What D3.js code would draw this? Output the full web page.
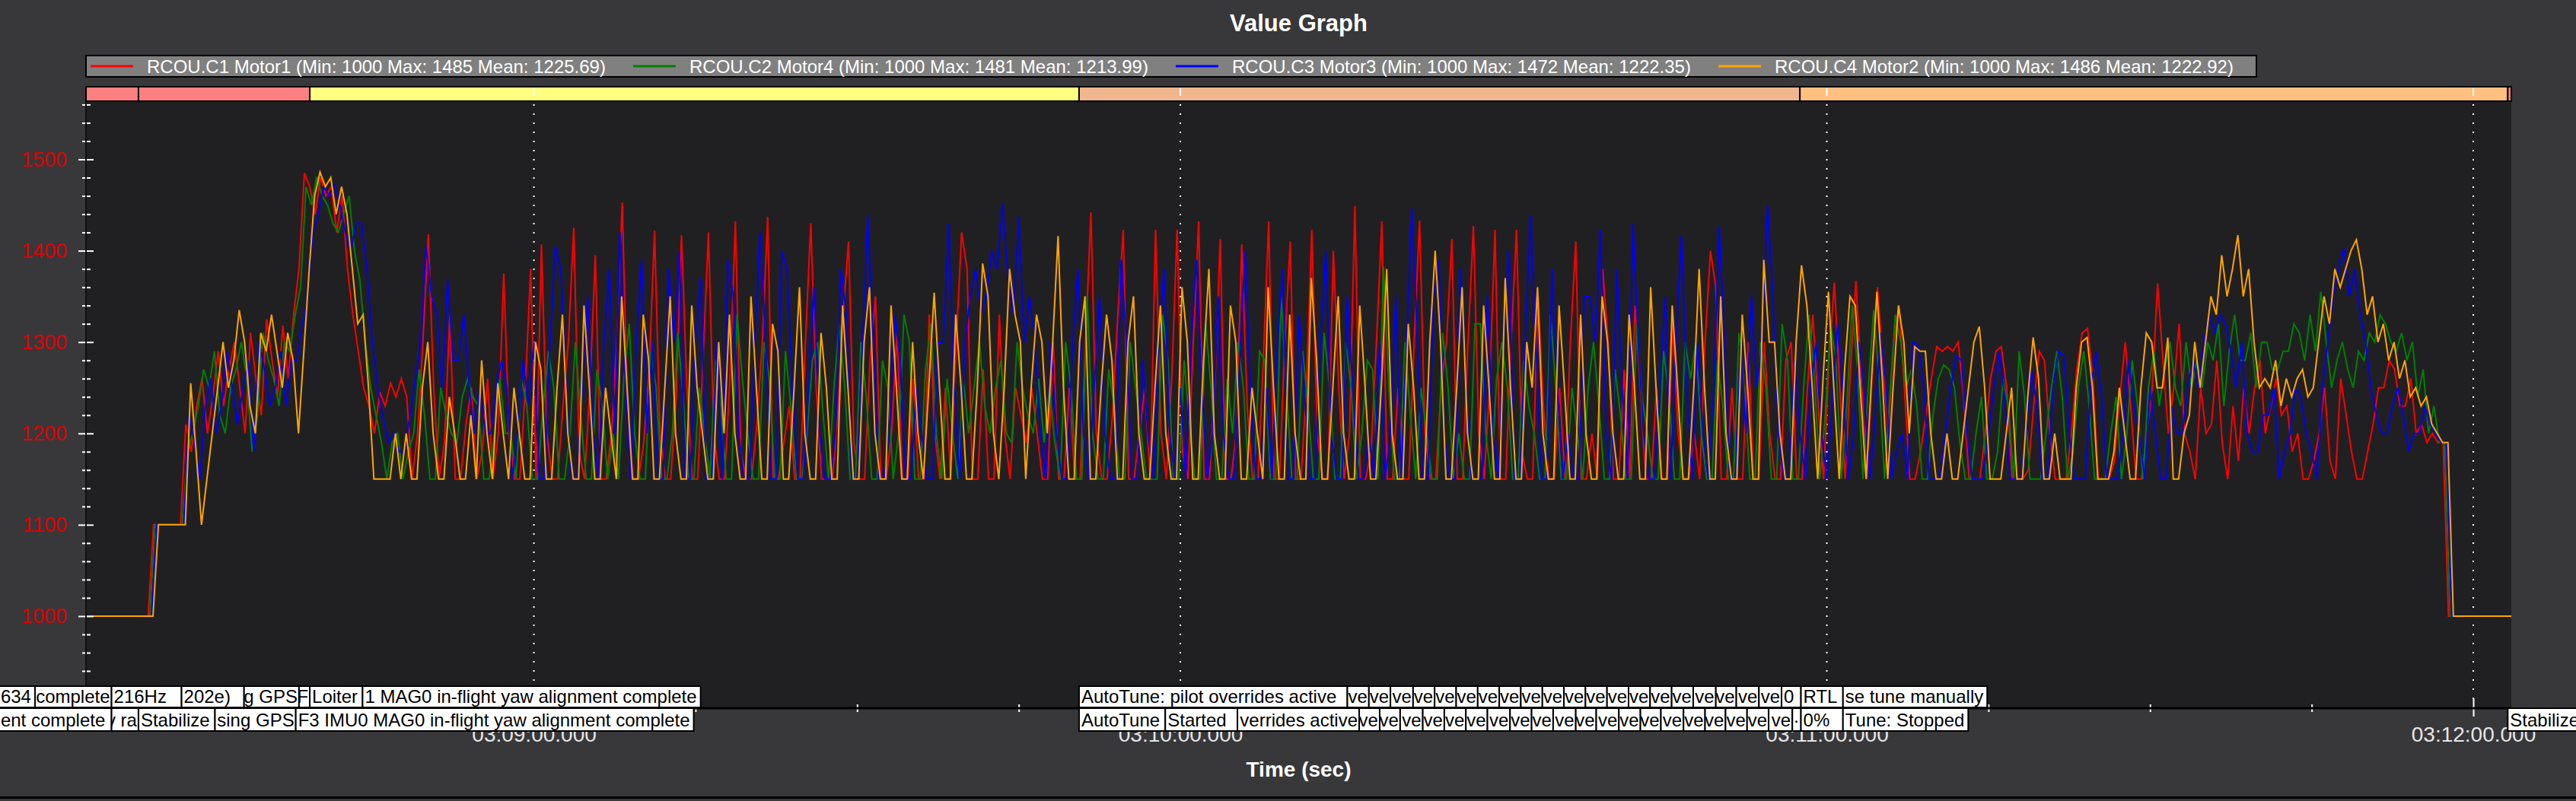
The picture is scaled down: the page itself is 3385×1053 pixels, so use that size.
<!DOCTYPE html>
<html>
<head>
<meta charset="utf-8">
<title>Value Graph</title>
<script src="https://cdn.jsdelivr.net/npm/d3@7"></script>
<style>
  body { margin: 0; background: #38383b; }
  svg { display: block; font-family: "Liberation Sans", Arial, sans-serif; }
</style>
</head>
<body>
<div id="graph"></div>
<script>
// D3 script for a Mission Planner style "Value Graph" of four RCOU motor outputs

// ---- data ----
// all times are seconds after 03:09:00, motor samples are half a second apart
let sampleStart = -42;
let sampleStep = 0.5;
let sampleLag = [-0.3, -0.15, 0, 0.15];

let seriesNames = [
  'RCOU.C1 Motor1 (Min: 1000 Max: 1485 Mean: 1225.69)',
  'RCOU.C2 Motor4 (Min: 1000 Max: 1481 Mean: 1213.99)',
  'RCOU.C3 Motor3 (Min: 1000 Max: 1472 Mean: 1222.35)',
  'RCOU.C4 Motor2 (Min: 1000 Max: 1486 Mean: 1222.92)'
];
let seriesColors = ['#ff0000', '#008000', '#0000ff', '#ffa500'];

let motor1 = [
  1000,1000,1000,1000,1000,1000,1000,1000,1000,1000,1000,1000,1000,1000,
  1100,1100,1100,1100,1100,1100,
  1210,1180,1230,1260,1200,1240,1290,1230,1270,1300,1250,1200,1310,1260,1220,1325,1280,1240,1318,1260,
  1330,1380,1485,1470,1440,1480,1460,1470,1420,1460,1380,1330,1290,1250,1230,1200,1245,1230,1255,1240,
  1260,1240,1150,1200,1300,1418,1250,1150,1190,1330,1150,1150,1210,1250,1150,1180,1260,1150,1200,1375,
  1200,1150,1150,1250,1380,1150,1407,1200,1150,1150,1230,1300,1425,1180,1150,1250,1395,1150,1150,1200,
  1300,1453,1220,1150,1150,1190,1270,1422,1200,1150,1150,1240,1417,1250,1150,1150,1280,1420,1200,1150,
  1150,1260,1432,1180,1150,1150,1210,1300,1437,1150,1150,1190,1230,1150,1150,1300,1430,1250,1150,1150,
  1150,1220,1330,1410,1190,1150,1150,1280,1350,1150,1150,1200,1310,1150,1150,1260,1150,1150,1330,1200,
  1150,1250,1150,1300,1420,1380,1150,1150,1270,1150,1150,1330,1200,1150,1250,1220,1190,1250,1200,1150,
  1150,1300,1150,1150,1250,1150,1150,1300,1442,1200,1150,1150,1220,1330,1423,1150,1150,1200,1250,1150,
  1423,1200,1150,1260,1423,1180,1150,1300,1432,1150,1150,1250,1413,1150,1150,1200,1407,1230,1150,1150,
  1280,1432,1150,1150,1300,1410,1150,1150,1250,1423,1200,1150,1150,1400,1250,1150,1200,1449,1150,1150,
  1180,1300,1432,1150,1150,1250,1150,1150,1300,1433,1200,1150,1150,1250,1300,1413,1150,1150,1300,1427,
  1200,1150,1250,1423,1150,1150,1300,1423,1180,1150,1150,1350,1230,1150,1150,1250,1150,1300,1410,1150,
  1150,1200,1150,1380,1300,1150,1150,1270,1150,1340,1250,1150,1150,1250,1150,1150,1320,1200,1150,1150,
  1200,1150,1300,1400,1360,1150,1150,1250,1150,1150,1300,1150,1150,1300,1200,1150,1150,1280,1300,1150,
  1150,1250,1330,1230,1150,1280,1365,1250,1150,1270,1367,1260,1150,1260,1360,1280,1200,1300,1340,1250,
  1150,1150,1180,1220,1260,1295,1290,1295,1290,1300,1240,1150,1150,1150,1200,1260,1290,1295,1250,1150,
  1150,1150,1160,1230,1290,1280,1200,1150,1150,1150,1200,1270,1310,1315,1260,1150,1150,1150,1170,1240,
  1300,1230,1150,1150,1200,1250,1364,1280,1200,1250,1320,1200,1180,1150,1250,1200,1210,1280,1190,1150,
  1230,1170,1250,1200,1250,1280,1200,1230,1260,1220,1230,1180,1200,1150,1150,1170,1200,1250,1170,1150,
  1260,1220,1180,1150,1150,1180,1210,1250,1250,1280,1270,1230,1230,1260,1200,1210,1190,1200,1190,1190,
  1000,1000,1000,1000,1000,1000,1000,1000,1000,1000,1000,1000,1000
];

let motor4 = [
  1000,1000,1000,1000,1000,1000,1000,1000,1000,1000,1000,1000,1000,1000,
  1100,1100,1100,1100,1100,1100,
  1180,1200,1230,1270,1250,1290,1220,1200,1250,1270,1300,1260,1180,1220,1310,1280,1260,1230,1300,1290,
  1330,1360,1470,1450,1481,1460,1450,1430,1420,1440,1460,1400,1368,1300,1250,1220,1190,1150,1190,1200,
  1150,1180,1200,1270,1220,1150,1150,1250,1220,1200,1190,1240,1260,1240,1230,1150,1150,1200,1260,1200,
  1200,1150,1260,1230,1150,1150,1230,1290,1250,1150,1150,1200,1300,1220,1150,1150,1270,1230,1150,1200,
  1150,1260,1320,1200,1150,1150,1290,1250,1150,1150,1200,1310,1240,1150,1150,1250,1200,1150,1280,1230,
  1150,1150,1330,1260,1200,1150,1150,1300,1260,1150,1150,1290,1230,1150,1150,1200,1280,1300,1220,1150,
  1250,1320,1250,1150,1150,1300,1240,1150,1150,1280,1250,1150,1200,1330,1300,1150,1150,1270,1320,1200,
  1150,1260,1200,1150,1260,1200,1250,1300,1230,1200,1250,1280,1200,1190,1300,1250,1220,1200,1260,1190,
  1250,1190,1150,1300,1250,1150,1150,1350,1200,1150,1150,1270,1230,1150,1150,1300,1250,1200,1150,1150,
  1150,1330,1280,1150,1150,1280,1210,1150,1150,1320,1250,1150,1150,1260,1200,1300,1250,1150,1150,1290,
  1280,1150,1150,1350,1250,1150,1150,1290,1230,1150,1150,1310,1250,1150,1150,1300,1250,1150,1200,1280,
  1270,1150,1383,1250,1150,1150,1300,1220,1150,1250,1200,1150,1150,1310,1250,1150,1200,1150,1150,1320,
  1320,1200,1150,1260,1300,1250,1150,1150,1280,1230,1200,1150,1150,1330,1250,1150,1150,1250,1200,1150,
  1250,1300,1230,1150,1150,1270,1220,1150,1150,1320,1240,1200,1150,1150,1290,1240,1150,1150,1300,1260,
  1300,1200,1150,1150,1280,1230,1150,1150,1310,1250,1150,1150,1300,1250,1150,1150,1320,1280,1150,1150,
  1250,1330,1260,1150,1220,1320,1280,1150,1230,1340,1270,1150,1250,1335,1260,1150,1240,1330,1300,1250,
  1270,1230,1150,1150,1220,1260,1275,1270,1250,1190,1150,1150,1200,1240,1150,1150,1180,1260,1230,1150,
  1290,1240,1150,1150,1150,1200,1250,1290,1240,1150,1180,1250,1290,1230,1150,1150,1150,1200,1240,1150,
  1200,1280,1230,1150,1250,1290,1230,1270,1300,1250,1230,1300,1250,1280,1250,1300,1280,1320,1230,1290,
  1330,1280,1280,1310,1250,1300,1300,1270,1270,1290,1290,1320,1310,1280,1330,1290,1355,1300,1250,1280,
  1300,1270,1250,1290,1280,1310,1300,1330,1320,1300,1290,1310,1280,1300,1240,1270,1200,1230,1190,1190,
  1000,1000,1000,1000,1000,1000,1000,1000,1000,1000,1000,1000,1000
];

let motor3 = [
  1000,1000,1000,1000,1000,1000,1000,1000,1000,1000,1000,1000,1000,1000,
  1100,1100,1100,1100,1100,1100,
  1220,1190,1150,1230,1260,1200,1230,1290,1250,1210,1250,1280,1180,1300,1270,1230,1250,1290,1230,1280,
  1280,1320,1350,1420,1440,1470,1460,1472,1450,1420,1400,1430,1430,1380,1300,1250,1217,1190,1200,1180,
  1180,1220,1260,1300,1405,1350,1330,1250,1368,1280,1280,1330,1250,1200,1250,1200,1200,1250,1280,1250,
  1150,1200,1280,1230,1300,1150,1150,1300,1405,1380,1250,1150,1150,1250,1350,1200,1150,1300,1380,1200,
  1420,1250,1150,1300,1390,1200,1300,1150,1150,1380,1300,1400,1150,1150,1300,1370,1150,1150,1300,1150,
  1390,1350,1200,1150,1150,1300,1420,1300,1150,1150,1400,1380,1250,1150,1150,1250,1360,1200,1150,1150,
  1200,1380,1330,1150,1150,1300,1438,1300,1150,1150,1200,1330,1280,1150,1150,1250,1200,1150,1150,1300,
  1300,1430,1250,1150,1300,1350,1380,1330,1350,1400,1380,1452,1370,1330,1437,1300,1350,1300,1200,1150,
  1300,1200,1150,1150,1300,1380,1200,1150,1250,1350,1200,1150,1150,1390,1300,1150,1150,1280,1200,1150,
  1300,1380,1200,1150,1250,1150,1300,1390,1250,1150,1200,1350,1200,1150,1150,1280,1400,1250,1150,1150,
  1250,1150,1300,1380,1150,1150,1330,1250,1150,1150,1300,1400,1200,1150,1150,1350,1250,1150,1150,1200,
  1150,1300,1150,1200,1350,1150,1300,1446,1300,1150,1150,1350,1390,1200,1150,1150,1380,1250,1150,1150,
  1150,1350,1200,1150,1300,1400,1150,1150,1300,1438,1300,1150,1150,1380,1250,1150,1200,1150,1150,1350,
  1350,1300,1423,1200,1150,1380,1250,1150,1430,1300,1200,1150,1150,1250,1350,1150,1300,1417,1250,1150,
  1300,1200,1150,1250,1427,1300,1150,1150,1300,1200,1350,1250,1300,1450,1350,1200,1150,1150,1280,1200,
  1150,1250,1300,1200,1150,1230,1320,1250,1150,1200,1300,1240,1150,1220,1310,1250,1150,1180,1200,1150,
  1300,1296,1250,1150,1150,1150,1200,1250,1285,1280,1200,1150,1150,1150,1200,1250,1290,1240,1150,1150,
  1150,1200,1270,1230,1150,1150,1250,1290,1285,1200,1150,1150,1150,1250,1290,1240,1150,1150,1150,1200,
  1280,1230,1200,1150,1250,1200,1150,1150,1230,1200,1200,1250,1280,1250,1300,1330,1310,1330,1320,1290,
  1250,1300,1200,1180,1180,1220,1220,1250,1150,1180,1200,1250,1240,1200,1180,1150,1250,1300,1350,1380,
  1403,1350,1380,1330,1300,1250,1220,1200,1200,1230,1250,1220,1180,1200,1200,1230,1210,1200,1190,1190,
  1000,1000,1000,1000,1000,1000,1000,1000,1000,1000,1000,1000,1000
];

let motor2 = [
  1000,1000,1000,1000,1000,1000,1000,1000,1000,1000,1000,1000,1000,1000,
  1100,1100,1100,1100,1100,1100,
  1255,1180,1100,1150,1200,1250,1300,1250,1280,1335,1300,1230,1200,1310,1290,1330,1290,1250,1310,1280,
  1200,1290,1380,1460,1486,1470,1480,1440,1470,1440,1380,1320,1330,1250,1150,1150,1150,1150,1200,1150,
  1200,1150,1150,1250,1300,1200,1150,1150,1240,1200,1150,1150,1220,1150,1280,1200,1150,1255,1200,1150,
  1250,1200,1150,1150,1300,1270,1150,1150,1250,1330,1200,1150,1150,1340,1250,1150,1150,1250,1200,1150,
  1350,1250,1150,1150,1330,1280,1150,1150,1250,1350,1200,1150,1150,1340,1250,1200,1150,1150,1300,1200,
  1330,1200,1150,1150,1350,1250,1150,1150,1320,1290,1150,1150,1250,1360,1200,1150,1150,1310,1250,1150,
  1150,1340,1250,1150,1150,1300,1360,1200,1150,1150,1340,1250,1150,1150,1300,1200,1150,1250,1354,1250,
  1150,1150,1330,1250,1150,1150,1250,1386,1350,1200,1150,1250,1380,1330,1300,1150,1250,1330,1300,1200,
  1300,1416,1250,1150,1150,1300,1350,1150,1150,1250,1330,1280,1150,1150,1300,1350,1200,1150,1150,1250,
  1340,1200,1150,1150,1360,1300,1150,1150,1280,1380,1200,1150,1150,1340,1300,1150,1150,1250,1200,1150,
  1360,1250,1150,1150,1330,1200,1150,1150,1370,1280,1150,1150,1250,1350,1200,1150,1150,1340,1250,1150,
  1150,1250,1380,1200,1150,1150,1320,1250,1150,1150,1300,1400,1300,1150,1150,1250,1360,1200,1150,1150,
  1340,1250,1150,1150,1370,1250,1150,1150,1300,1250,1360,1200,1150,1150,1340,1250,1150,1150,1330,1200,
  1150,1150,1350,1300,1200,1150,1150,1330,1250,1150,1150,1360,1250,1150,1150,1340,1250,1150,1150,1250,
  1380,1250,1150,1150,1350,1200,1150,1150,1330,1250,1150,1150,1390,1300,1300,1200,1150,1150,1300,1384,
  1340,1250,1150,1260,1355,1250,1150,1270,1350,1340,1240,1150,1260,1355,1260,1150,1250,1340,1300,1200,
  1295,1290,1290,1200,1150,1150,1200,1150,1150,1200,1250,1300,1317,1250,1150,1150,1150,1200,1250,1150,
  1150,1240,1305,1260,1150,1150,1200,1150,1150,1150,1250,1300,1305,1250,1150,1150,1150,1180,1250,1200,
  1150,1150,1250,1310,1300,1250,1250,1305,1150,1150,1200,1220,1300,1250,1300,1350,1330,1395,1350,1380,
  1417,1350,1380,1300,1250,1260,1250,1280,1230,1260,1240,1260,1270,1240,1250,1300,1350,1320,1380,1360,
  1380,1400,1412,1380,1330,1350,1300,1320,1280,1300,1260,1280,1240,1250,1230,1240,1210,1200,1190,1190,
  1000,1000,1000,1000,1000,1000,1000,1000,1000,1000,1000,1000,1000
];

let motorSeries = [motor1, motor4, motor3, motor2];

// axis ticks
let xMajorTicks = [0, 60, 120, 180];
let xTickLabels = ['03:09:00.000', '03:10:00.000', '03:11:00.000', '03:12:00.000'];
let yMajorTicks = [1000, 1100, 1200, 1300, 1400, 1500];

// flight mode bar
let modeNames = ['Stabilize', 'Stabilize', 'Loiter', 'AutoTune', 'RTL', 'Stabilize'];
let modeStarts = [-41.6, -36.7, -20.8, 50.6, 117.5, 183.2];
let modeColors = ['#ff8080', '#ff8080', '#ffff80', '#f0b68e', '#ffc080', '#ff8080'];

// message labels (what is left readable of each, two rows)
let row1Times = [-49.7, -46.3, -39.2, -32.7, -26.9, -21.8, -20.8, -15.9, 50.6,
  75.5, 77.5, 79.5, 81.6, 83.6, 85.6, 87.6, 89.6, 91.6, 93.6,
  95.6, 97.6, 99.6, 101.6, 103.6, 105.6, 107.6, 109.7, 111.6, 113.7,
  115.8, 117.6, 121.5];
let row1Texts = ['634', 'complete', '216Hz', '202e)', 'g GPS', 'F', 'Loiter',
  '1 MAG0 in-flight yaw alignment complete', 'AutoTune: pilot overrides active',
  've', 've', 've', 've', 've', 've', 've', 've', 've', 've',
  've', 've', 've', 've', 've', 've', 've', 've', 've', 've',
  '0', 'RTL', 'se tune manually'];
let row2Times = [-49.7, -39.2, -36.7, -29.6, -22.1, 50.6, 58.6, 65.3,
  76.6, 78.5, 80.4, 82.5, 84.5, 86.5, 88.5, 90.6, 92.6, 94.6,
  96.7, 98.6, 100.7, 102.7, 104.6, 106.7, 108.7, 110.6, 112.6, 114.6,
  116.8, 117.6, 121.5, 183.2];
let row2Texts = ['ent complete', 'y ra', 'Stabilize', 'sing GPS',
  'F3 IMU0 MAG0 in-flight yaw alignment complete', 'AutoTune', 'Started', 'verrides active',
  've', 've', 've', 've', 've', 've', 've', 've', 've', 've',
  've', 've', 've', 've', 've', 've', 've', 've', 've', 've',
  '\u00b7', '0%', 'Tune: Stopped', 'Stabilize'];

// ---- page and chart parameters ----
let svgWidth = 3385;
let svgHeight = 1053;
let plot = { left: 113, right: 3300, top: 133, bottom: 931 };
let timeStart = -41.57;
let timeEnd = 183.53;

let svg = d3.select('#graph')
  .append('svg')
  .attr('width', svgWidth)
  .attr('height', svgHeight);

svg.append('rect')
  .attr('width', svgWidth)
  .attr('height', svgHeight)
  .attr('fill', '#38383b');

// scales
let xScale = d3.scaleLinear()
  .domain([timeStart, timeEnd])
  .range([plot.left, plot.right]);

let yScale = d3.scaleLinear()
  .domain([899.2, 1563.7])
  .range([plot.bottom, plot.top]);

// title
svg.append('text')
  .attr('x', (plot.left + plot.right) / 2)
  .attr('y', 41)
  .attr('text-anchor', 'middle')
  .attr('font-size', 31)
  .attr('font-weight', 'bold')
  .attr('fill', '#ffffff')
  .text('Value Graph');

// legend
let legend = svg.append('g');
legend.append('rect')
  .attr('x', 113)
  .attr('y', 73)
  .attr('width', 2852)
  .attr('height', 28)
  .attr('fill', '#808080')
  .attr('stroke', '#000')
  .attr('stroke-width', 2);

seriesNames.forEach(function(name, i) {
  let ex = 119 + i * 713;
  legend.append('line')
    .attr('x1', ex)
    .attr('x2', ex + 56)
    .attr('y1', 87)
    .attr('y2', 87)
    .attr('stroke', seriesColors[i])
    .attr('stroke-width', 3);
  legend.append('text')
    .attr('x', ex + 74)
    .attr('y', 96)
    .attr('font-size', 24)
    .attr('fill', '#ffffff')
    .text(name);
});

// plot background
svg.append('rect')
  .attr('x', plot.left)
  .attr('y', plot.top)
  .attr('width', plot.right - plot.left)
  .attr('height', plot.bottom - plot.top)
  .attr('fill', '#202023');

// flight mode bar
let modeGroup = svg.append('g');
modeStarts.forEach(function(t, i) {
  let x0 = xScale(Math.max(t, timeStart));
  let x1 = i < modeStarts.length - 1 ? xScale(modeStarts[i + 1]) : plot.right;
  modeGroup.append('rect')
    .attr('x', x0)
    .attr('y', 114)
    .attr('width', x1 - x0)
    .attr('height', 19)
    .attr('fill', modeColors[i])
    .attr('stroke', '#000')
    .attr('stroke-width', 2)
    .append('title').text(modeNames[i]);
});
modeGroup.selectAll('.modeTick')
  .data(xMajorTicks)
  .enter()
  .append('line')
  .attr('x1', d => xScale(d))
  .attr('x2', d => xScale(d))
  .attr('y1', 116)
  .attr('y2', 126)
  .attr('stroke', '#ffffff')
  .attr('stroke-width', 2);

// dotted grid
svg.append('g')
  .selectAll('line')
  .data(xMajorTicks)
  .enter()
  .append('line')
  .attr('x1', d => xScale(d))
  .attr('x2', d => xScale(d))
  .attr('y1', plot.top + 4)
  .attr('y2', plot.bottom)
  .attr('stroke', '#ffffff')
  .attr('stroke-width', 2)
  .attr('stroke-dasharray', '2,10');

// clip for the curves
svg.append('clipPath')
  .attr('id', 'plotClip')
  .append('rect')
  .attr('x', plot.left)
  .attr('y', plot.top)
  .attr('width', plot.right - plot.left)
  .attr('height', plot.bottom - plot.top);

let curveGroup = svg.append('g')
  .attr('clip-path', 'url(#plotClip)');

motorSeries.forEach(function(values, s) {
  let line = d3.line()
    .x((d, i) => xScale(sampleStart + i * sampleStep + sampleLag[s]))
    .y(d => yScale(d));
  curveGroup.append('path')
    .datum(values)
    .attr('d', line)
    .attr('fill', 'none')
    .attr('stroke', seriesColors[s])
    .attr('stroke-width', 2)
    .attr('stroke-linejoin', 'miter');
});

// x axis: major ticks with labels, minor ticks every 15 s
let xMinorTicks = d3.range(-30, timeEnd, 15).filter(d => d % 60 !== 0);

let xMinor = svg.append('g')
  .attr('transform', `translate(0, ${plot.bottom - 5})`)
  .call(d3.axisBottom(xScale).tickValues(xMinorTicks).tickSize(10).tickFormat(''));

let xMajor = svg.append('g')
  .attr('transform', `translate(0, ${plot.bottom - 13})`)
  .call(d3.axisBottom(xScale)
    .tickValues(xMajorTicks)
    .tickSize(24)
    .tickPadding(13)
    .tickFormat((d, i) => xTickLabels[i]));

xMajor.selectAll('text')
  .attr('font-size', 28)
  .attr('font-family', '"Liberation Sans", Arial, sans-serif')
  .attr('fill', '#e6e6e6');

// y axis: major ticks with red labels, minor ticks every 20
let yMinorTicks = d3.range(900, 1564, 20).filter(d => d % 100 !== 0);

let yMinor = svg.append('g')
  .attr('transform', `translate(${plot.left + 6}, 0)`)
  .call(d3.axisLeft(yScale).tickValues(yMinorTicks).tickSize(11).tickFormat(''));

let yMajor = svg.append('g')
  .attr('transform', `translate(${plot.left + 10}, 0)`)
  .call(d3.axisLeft(yScale)
    .tickValues(yMajorTicks)
    .tickSize(20)
    .tickPadding(15)
    .tickFormat(d3.format('d')));

yMajor.selectAll('text')
  .attr('font-size', 27)
  .attr('font-family', '"Liberation Sans", Arial, sans-serif')
  .attr('fill', '#e00000');

[xMinor, xMajor, yMinor, yMajor].forEach(function(axis) {
  axis.select('.domain').remove();
  axis.selectAll('line')
    .attr('stroke', '#ffffff')
    .attr('stroke-width', 2);
});

// axis frame lines
svg.append('line')
  .attr('x1', plot.left)
  .attr('x2', plot.left)
  .attr('y1', plot.top)
  .attr('y2', plot.bottom)
  .attr('stroke', '#101010')
  .attr('stroke-width', 2);
svg.append('line')
  .attr('x1', plot.left)
  .attr('x2', plot.right)
  .attr('y1', plot.bottom)
  .attr('y2', plot.bottom)
  .attr('stroke', '#000')
  .attr('stroke-width', 3);

// x axis title
svg.append('text')
  .attr('x', (plot.left + plot.right) / 2)
  .attr('y', 1021)
  .attr('text-anchor', 'middle')
  .attr('font-size', 28)
  .attr('font-weight', 'bold')
  .attr('fill', '#ffffff')
  .text('Time (sec)');

// message boxes, each later box covering the spill of the one before;
// a text that does not fit its box shows only its tail
let noteCount = 0;
function drawNotes(times, texts, top, h) {
  let g = svg.append('g');
  times.forEach(function(t, i) {
    let x0 = xScale(t);
    let box = g.append('rect')
      .attr('x', x0)
      .attr('y', top)
      .attr('height', h)
      .attr('fill', '#ffffff')
      .attr('stroke', '#000')
      .attr('stroke-width', 2);
    let label = g.append('text')
      .attr('y', top + h - 6)
      .attr('font-size', 24)
      .attr('fill', '#000')
      .text(texts[i]);
    let textW = label.node().getComputedTextLength();
    let w = textW + 8;
    if (i < times.length - 1) {
      let gap = xScale(times[i + 1]) - x0;
      if (gap < w + 40) { w = gap; }
    }
    box.attr('width', w);
    if (textW + 6 > w) {
      label.attr('text-anchor', 'end').attr('x', x0 + w - 2);
    } else {
      label.attr('x', x0 + 3);
    }

    // keep the text inside its own box
    let clipId = 'note' + (noteCount++);
    g.append('clipPath')
      .attr('id', clipId)
      .append('rect')
      .attr('x', x0)
      .attr('y', top)
      .attr('width', w)
      .attr('height', h);
    label.attr('clip-path', `url(#${clipId})`);
  });
}

drawNotes(row1Times, row1Texts, 902, 28);
drawNotes(row2Times, row2Texts, 931, 30);

// bottom frame line
svg.append('rect')
  .attr('x', 0)
  .attr('y', 1047)
  .attr('width', svgWidth)
  .attr('height', 3)
  .attr('fill', '#000');
</script>
</body>
</html>
